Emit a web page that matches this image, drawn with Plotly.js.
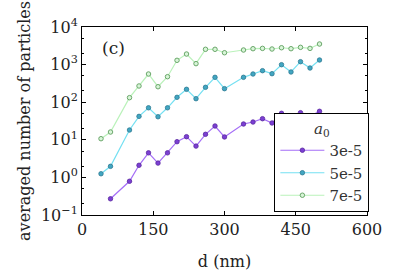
<!DOCTYPE html>
<html>
<head>
<meta charset="utf-8">
<script src="https://cdn.plot.ly/plotly-3.0.1.min.js"></script>
<style>html,body{margin:0;padding:0;background:#fff;}#chart{width:407px;height:271px;}</style>
</head>
<body>
<div id="chart"></div>
<script>
// d (nm) positions for each series
const dPurple = [60, 100, 120, 140, 160, 180, 200, 220, 240, 260, 280, 300, 340, 360, 380, 400, 420, 440, 460, 480, 500];
const dCyan   = [40, 60, 100, 120, 140, 160, 180, 200, 220, 240, 260, 280, 300, 340, 360, 380, 400, 420, 440, 460, 480, 500];
const dGreen  = [40, 60, 100, 120, 140, 160, 180, 200, 220, 240, 260, 280, 300, 340, 360, 380, 400, 420, 440, 460, 480, 500];

// averaged number of particles
const a3e5 = [0.27, 0.79, 2.1, 4.5, 2.4, 4.5, 8.9, 12.1, 6.8, 14.0, 23.3, 11.9, 26.3, 29.7, 36.4, 28, 50.7, 40, 52.6, 42, 57.3];
const a5e5 = [1.25, 1.97, 18.2, 42, 71, 41, 71, 135, 220, 124, 249, 459, 229, 459, 562, 689, 573, 994, 636, 1194, 812, 1325];
const a7e5 = [10.7, 16.1, 132, 270, 562, 258, 477, 1300, 1910, 1060, 2550, 2550, 2070, 2445, 2650, 2700, 2600, 2810, 2650, 2880, 2700, 3530];

const seriesNames = ["3e-5", "5e-5", "7e-5"];
const xTicks = [0, 150, 300, 450, 600];
const yTickVals = [0.1, 1, 10, 100, 1000, 10000];
const yTickText = ["10<sup>\u22121</sup>", "10<sup>0</sup>", "10<sup>1</sup>", "10<sup>2</sup>", "10<sup>3</sup>", "10<sup>4</sup>"];

const font = "DejaVu Serif";

const traces = [
  {x: dPurple, y: a3e5, name: seriesNames[0], mode: "lines+markers",
   line: {color: "#a56ef7", width: 1.2},
   marker: {size: 4.5, color: "#7b3fd3", line: {color: "#5a2aa0", width: 0.8}}},
  {x: dCyan, y: a5e5, name: seriesNames[1], mode: "lines+markers",
   line: {color: "#74e0f2", width: 1.2},
   marker: {size: 4.5, color: "#41a6c2", line: {color: "#2f7a92", width: 0.8}}},
  {x: dGreen, y: a7e5, name: seriesNames[2], mode: "lines+markers",
   line: {color: "#baf2ba", width: 1.2},
   marker: {size: 4.5, color: "#d8f5d8", line: {color: "#5f9e5f", width: 0.9}}}
];

const layout = {
  width: 407, height: 271,
  margin: {l: 82, r: 40, t: 27, b: 56},
  paper_bgcolor: "#fff", plot_bgcolor: "#fff",
  font: {family: font, color: "#222", size: 16},
  showlegend: true,
  legend: {
    x: 0.675, y: 0.54, xanchor: "left", yanchor: "top",
    bgcolor: "#fff", bordercolor: "#000", borderwidth: 1,
    font: {family: font, size: 15, color: "#333"},
    title: {text: "<i>a</i><sub>0</sub>", side: "top center", font: {family: font, size: 15}},
    itemwidth: 44, tracegroupgap: 2
  },
  xaxis: {
    range: [0, 600], tickvals: xTicks, ticktext: xTicks.map(String),
    ticks: "inside", ticklen: 4, tickcolor: "#000", mirror: "allticks",
    showline: true, linecolor: "#000", linewidth: 1, showgrid: false, zeroline: false,
    tickfont: {family: font, size: 16, color: "#222"},
    title: {text: "d (nm)", font: {family: font, size: 16, color: "#222"}, standoff: 20}
  },
  yaxis: {
    type: "log", range: [-1, 4], tickvals: yTickVals, ticktext: yTickText,
    ticks: "inside", ticklen: 4, tickcolor: "#000", mirror: "allticks",
    minor: {ticks: "inside", ticklen: 2, tickcolor: "#000", showgrid: false},
    showline: true, linecolor: "#000", linewidth: 1, showgrid: false, zeroline: false,
    tickfont: {family: font, size: 16, color: "#222"},
    title: {text: "averaged number of particles", font: {family: font, size: 16, color: "#222"}, standoff: 6}
  },
  annotations: [{
    text: "(c)", xref: "paper", yref: "paper", x: 0.11, y: 0.89, xanchor: "center", yanchor: "middle",
    showarrow: false, font: {family: font, size: 17, color: "#222"}
  }]
};

Plotly.newPlot("chart", traces, layout, {displayModeBar: false, staticPlot: true});
</script>
</body>
</html>
